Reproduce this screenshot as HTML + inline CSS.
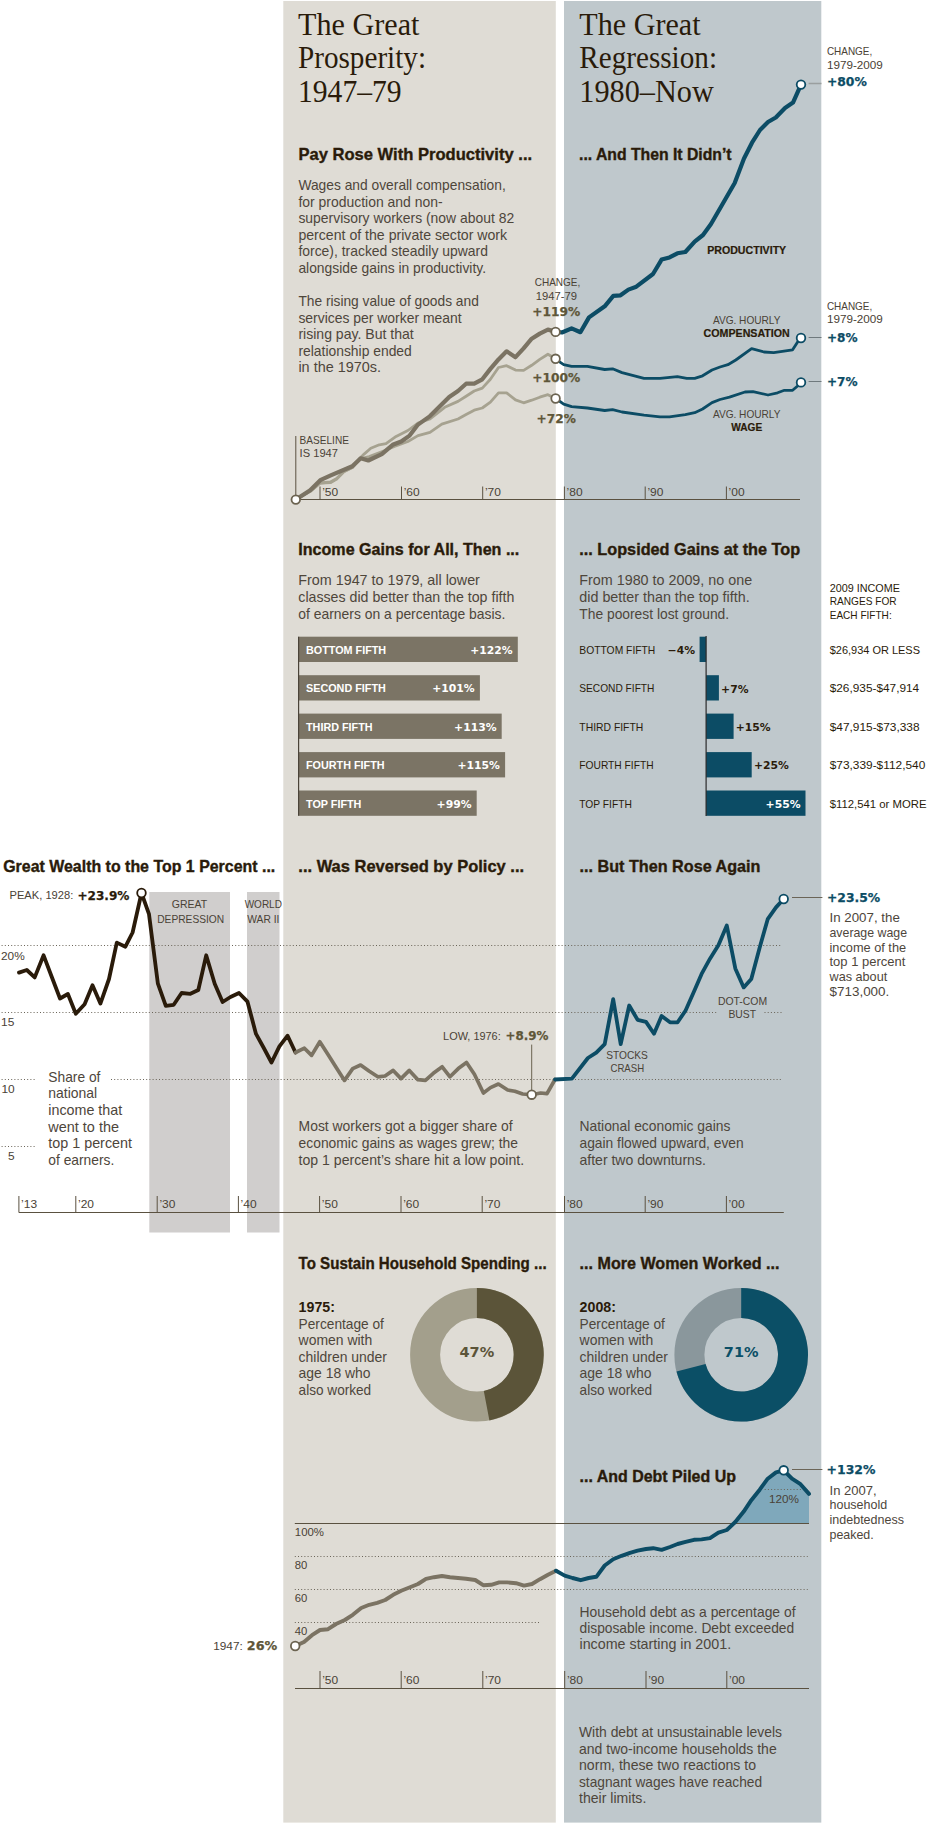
<!DOCTYPE html>
<html><head><meta charset="utf-8"><title>The Great Prosperity / The Great Regression</title><style>
html,body{margin:0;padding:0;background:#fff}
svg{display:block}
text{font-family:"Liberation Sans",sans-serif;}
.ttl{font-family:"Liberation Serif",serif;font-size:30.8px;fill:#2a1b0a}
.h{font-weight:bold;font-size:16.2px;fill:#2a1b0a;stroke:#2a1b0a;stroke-width:0.35px}
.b{font-size:13.9px;fill:#4e463b}
.hb{font-size:13.9px;font-weight:bold;fill:#2a1b0a}
.s{font-size:12.8px;fill:#4e463b}
.c{font-size:10.5px;fill:#4a4236}
.c2{font-size:10.8px;fill:#2a1b0a}
.cb{font-size:10.5px;font-weight:bold;fill:#2a1b0a;stroke:#2a1b0a;stroke-width:0.2px}
.n{font-family:"DejaVu Sans",sans-serif;font-weight:bold;font-size:12.6px;stroke-width:0.25px}
.n2{font-family:"DejaVu Sans",sans-serif;font-weight:bold;font-size:14.5px}
.bl{font-size:10.8px;font-weight:bold}
.bn{font-family:"DejaVu Sans",sans-serif;font-weight:bold;font-size:10.8px}
</style></head>
<body>
<svg width="950" height="1824" viewBox="0 0 950 1824">
<rect x="149.3" y="892.0" width="80.7" height="340.5" fill="#d0cecd"/>
<rect x="247.0" y="892.0" width="32.5" height="340.5" fill="#d0cecd"/>
<rect x="283.3" y="1.0" width="272.5" height="1821.6" fill="#dfdcd5"/>
<rect x="564.0" y="1.0" width="257.3" height="1821.6" fill="#bfc8cc"/>
<text class="ttl" x="298.0" y="34.9" textLength="121.5" lengthAdjust="spacingAndGlyphs">The Great</text>
<text class="ttl" x="298.0" y="68.4" textLength="128.0" lengthAdjust="spacingAndGlyphs">Prosperity:</text>
<text class="ttl" x="298.0" y="101.9" textLength="103.6" lengthAdjust="spacingAndGlyphs">1947–79</text>
<text class="ttl" x="579.3" y="34.9" textLength="121.3" lengthAdjust="spacingAndGlyphs">The Great</text>
<text class="ttl" x="579.3" y="68.4" textLength="137.7" lengthAdjust="spacingAndGlyphs">Regression:</text>
<text class="ttl" x="579.3" y="101.9" textLength="134.5" lengthAdjust="spacingAndGlyphs">1980–Now</text>
<text class="h" x="298.4" y="159.7" textLength="233.7" lengthAdjust="spacingAndGlyphs">Pay Rose With Productivity ...</text>
<text class="h" x="579.0" y="159.7" textLength="152.6" lengthAdjust="spacingAndGlyphs">... And Then It Didn’t</text>
<text class="h" x="298.3" y="554.6" textLength="221.0" lengthAdjust="spacingAndGlyphs">Income Gains for All, Then ...</text>
<text class="h" x="579.3" y="554.6" textLength="220.8" lengthAdjust="spacingAndGlyphs">... Lopsided Gains at the Top</text>
<text class="h" x="3.2" y="871.6" textLength="272.1" lengthAdjust="spacingAndGlyphs">Great Wealth to the Top 1 Percent ...</text>
<text class="h" x="298.3" y="871.6" textLength="225.8" lengthAdjust="spacingAndGlyphs">... Was Reversed by Policy ...</text>
<text class="h" x="579.5" y="871.6" textLength="181.0" lengthAdjust="spacingAndGlyphs">... But Then Rose Again</text>
<text class="h" x="298.6" y="1268.9" textLength="248.0" lengthAdjust="spacingAndGlyphs">To Sustain Household Spending ...</text>
<text class="h" x="579.6" y="1268.9" textLength="199.9" lengthAdjust="spacingAndGlyphs">... More Women Worked ...</text>
<text class="h" x="579.5" y="1482.0" textLength="156.5" lengthAdjust="spacingAndGlyphs">... And Debt Piled Up</text>
<text class="b" x="298.4" y="190.0" textLength="207.4" lengthAdjust="spacingAndGlyphs">Wages and overall compensation,</text>
<text class="b" x="298.4" y="206.6" textLength="144.2" lengthAdjust="spacingAndGlyphs">for production and non-</text>
<text class="b" x="298.4" y="223.2" textLength="215.8" lengthAdjust="spacingAndGlyphs">supervisory workers (now about 82</text>
<text class="b" x="298.4" y="239.8" textLength="208.7" lengthAdjust="spacingAndGlyphs">percent of the private sector work</text>
<text class="b" x="298.4" y="256.4" textLength="189.5" lengthAdjust="spacingAndGlyphs">force), tracked steadily upward</text>
<text class="b" x="298.4" y="273.0" textLength="187.6" lengthAdjust="spacingAndGlyphs">alongside gains in productivity.</text>
<text class="b" x="298.4" y="306.0" textLength="180.4" lengthAdjust="spacingAndGlyphs">The rising value of goods and</text>
<text class="b" x="298.4" y="322.6" textLength="163.2" lengthAdjust="spacingAndGlyphs">services per worker meant</text>
<text class="b" x="298.4" y="339.2" textLength="115.3" lengthAdjust="spacingAndGlyphs">rising pay. But that</text>
<text class="b" x="298.4" y="355.8" textLength="113.4" lengthAdjust="spacingAndGlyphs">relationship ended</text>
<text class="b" x="298.4" y="372.4" textLength="82.7" lengthAdjust="spacingAndGlyphs">in the 1970s.</text>
<text class="b" x="298.3" y="585.3" textLength="181.6" lengthAdjust="spacingAndGlyphs">From 1947 to 1979, all lower</text>
<text class="b" x="298.3" y="601.9" textLength="216.0" lengthAdjust="spacingAndGlyphs">classes did better than the top fifth</text>
<text class="b" x="298.3" y="618.5" textLength="207.1" lengthAdjust="spacingAndGlyphs">of earners on a percentage basis.</text>
<text class="b" x="579.3" y="585.3" textLength="172.8" lengthAdjust="spacingAndGlyphs">From 1980 to 2009, no one</text>
<text class="b" x="579.3" y="601.9" textLength="170.4" lengthAdjust="spacingAndGlyphs">did better than the top fifth.</text>
<text class="b" x="579.3" y="618.5" textLength="149.8" lengthAdjust="spacingAndGlyphs">The poorest lost ground.</text>
<text class="b" x="48.3" y="1081.7" textLength="52.1" lengthAdjust="spacingAndGlyphs">Share of</text>
<text class="b" x="48.3" y="1098.4" textLength="48.9" lengthAdjust="spacingAndGlyphs">national</text>
<text class="b" x="48.3" y="1115.0" textLength="73.9" lengthAdjust="spacingAndGlyphs">income that</text>
<text class="b" x="48.3" y="1131.7" textLength="70.7" lengthAdjust="spacingAndGlyphs">went to the</text>
<text class="b" x="48.3" y="1148.3" textLength="83.7" lengthAdjust="spacingAndGlyphs">top 1 percent</text>
<text class="b" x="48.3" y="1165.0" textLength="66.0" lengthAdjust="spacingAndGlyphs">of earners.</text>
<text class="b" x="298.6" y="1131.1" textLength="214.0" lengthAdjust="spacingAndGlyphs">Most workers got a bigger share of</text>
<text class="b" x="298.6" y="1147.9" textLength="219.4" lengthAdjust="spacingAndGlyphs">economic gains as wages grew; the</text>
<text class="b" x="298.6" y="1164.7" textLength="225.5" lengthAdjust="spacingAndGlyphs">top 1 percent’s share hit a low point.</text>
<text class="b" x="579.5" y="1131.1" textLength="150.9" lengthAdjust="spacingAndGlyphs">National economic gains</text>
<text class="b" x="579.5" y="1147.9" textLength="164.2" lengthAdjust="spacingAndGlyphs">again flowed upward, even</text>
<text class="b" x="579.5" y="1164.7" textLength="126.3" lengthAdjust="spacingAndGlyphs">after two downturns.</text>
<text class="b" x="298.6" y="1328.6" textLength="85.3" lengthAdjust="spacingAndGlyphs">Percentage of</text>
<text class="b" x="298.6" y="1345.1" textLength="73.6" lengthAdjust="spacingAndGlyphs">women with</text>
<text class="b" x="298.6" y="1361.6" textLength="88.4" lengthAdjust="spacingAndGlyphs">children under</text>
<text class="b" x="298.6" y="1378.1" textLength="72.0" lengthAdjust="spacingAndGlyphs">age 18 who</text>
<text class="b" x="298.6" y="1394.6" textLength="72.6" lengthAdjust="spacingAndGlyphs">also worked</text>
<text class="b" x="579.6" y="1328.6" textLength="85.3" lengthAdjust="spacingAndGlyphs">Percentage of</text>
<text class="b" x="579.6" y="1345.1" textLength="73.6" lengthAdjust="spacingAndGlyphs">women with</text>
<text class="b" x="579.6" y="1361.6" textLength="88.4" lengthAdjust="spacingAndGlyphs">children under</text>
<text class="b" x="579.6" y="1378.1" textLength="72.0" lengthAdjust="spacingAndGlyphs">age 18 who</text>
<text class="b" x="579.6" y="1394.6" textLength="72.6" lengthAdjust="spacingAndGlyphs">also worked</text>
<text class="hb" x="298.6" y="1311.8" textLength="36.3" lengthAdjust="spacingAndGlyphs">1975:</text>
<text class="hb" x="579.6" y="1311.8" textLength="36.3" lengthAdjust="spacingAndGlyphs">2008:</text>
<text class="b" x="579.5" y="1616.8" textLength="216.0" lengthAdjust="spacingAndGlyphs">Household debt as a percentage of</text>
<text class="b" x="579.5" y="1633.1" textLength="214.7" lengthAdjust="spacingAndGlyphs">disposable income. Debt exceeded</text>
<text class="b" x="579.5" y="1649.4" textLength="151.6" lengthAdjust="spacingAndGlyphs">income starting in 2001.</text>
<text class="b" x="579.0" y="1736.9" textLength="203.0" lengthAdjust="spacingAndGlyphs">With debt at unsustainable levels</text>
<text class="b" x="579.0" y="1753.5" textLength="197.7" lengthAdjust="spacingAndGlyphs">and two-income households the</text>
<text class="b" x="579.0" y="1770.1" textLength="177.1" lengthAdjust="spacingAndGlyphs">norm, these two reactions to</text>
<text class="b" x="579.0" y="1786.7" textLength="183.1" lengthAdjust="spacingAndGlyphs">stagnant wages have reached</text>
<text class="b" x="579.0" y="1803.3" textLength="67.3" lengthAdjust="spacingAndGlyphs">their limits.</text>
<text class="s" x="829.5" y="922.0" textLength="70.3" lengthAdjust="spacingAndGlyphs">In 2007, the</text>
<text class="s" x="829.5" y="936.8" textLength="77.5" lengthAdjust="spacingAndGlyphs">average wage</text>
<text class="s" x="829.5" y="951.5" textLength="76.6" lengthAdjust="spacingAndGlyphs">income of the</text>
<text class="s" x="829.5" y="966.2" textLength="75.8" lengthAdjust="spacingAndGlyphs">top 1 percent</text>
<text class="s" x="829.5" y="981.0" textLength="57.7" lengthAdjust="spacingAndGlyphs">was about</text>
<text class="s" x="829.5" y="995.8" textLength="59.8" lengthAdjust="spacingAndGlyphs">$713,000.</text>
<text class="s" x="829.5" y="1494.5" textLength="47.2" lengthAdjust="spacingAndGlyphs">In 2007,</text>
<text class="s" x="829.5" y="1509.2" textLength="57.7" lengthAdjust="spacingAndGlyphs">household</text>
<text class="s" x="829.5" y="1523.9" textLength="74.5" lengthAdjust="spacingAndGlyphs">indebtedness</text>
<text class="s" x="829.5" y="1538.6" textLength="44.2" lengthAdjust="spacingAndGlyphs">peaked.</text>
<line x1="295.8" y1="499.5" x2="800.0" y2="499.5" stroke="#5a5140" stroke-width="1" />
<line x1="295.8" y1="436.0" x2="295.8" y2="499.5" stroke="#5a5140" stroke-width="1" />
<line x1="320.0" y1="486.5" x2="320.0" y2="499.5" stroke="#5a5140" stroke-width="1" />
<text class="c" x="322.2" y="496.3" textLength="16.0" lengthAdjust="spacingAndGlyphs">’50</text>
<line x1="401.5" y1="486.5" x2="401.5" y2="499.5" stroke="#5a5140" stroke-width="1" />
<text class="c" x="403.7" y="496.3" textLength="16.0" lengthAdjust="spacingAndGlyphs">’60</text>
<line x1="482.7" y1="486.5" x2="482.7" y2="499.5" stroke="#5a5140" stroke-width="1" />
<text class="c" x="484.9" y="496.3" textLength="16.0" lengthAdjust="spacingAndGlyphs">’70</text>
<line x1="564.4" y1="486.5" x2="564.4" y2="499.5" stroke="#5a5140" stroke-width="1" />
<text class="c" x="566.6" y="496.3" textLength="16.0" lengthAdjust="spacingAndGlyphs">’80</text>
<line x1="645.2" y1="486.5" x2="645.2" y2="499.5" stroke="#5a5140" stroke-width="1" />
<text class="c" x="647.4" y="496.3" textLength="16.0" lengthAdjust="spacingAndGlyphs">’90</text>
<line x1="726.4" y1="486.5" x2="726.4" y2="499.5" stroke="#5a5140" stroke-width="1" />
<text class="c" x="728.6" y="496.3" textLength="16.0" lengthAdjust="spacingAndGlyphs">’00</text>
<polyline points="295.9,499.4 310.2,491.3 320.3,483.0 330.4,482.0 336.3,478.8 343.9,471.5 352.3,467.6 360.7,458.5 369.2,456.6 384.3,450.7 394.4,446.5 407.9,441.5 418.0,435.6 430.0,432.3 441.8,424.2 458.0,419.0 466.1,414.6 474.2,410.2 482.3,408.0 490.4,402.1 498.5,392.8 506.6,392.8 515.5,399.9 523.6,402.8 531.7,400.2 539.8,397.2 547.9,394.7 555.6,398.5" fill="none" stroke="#a6a290" stroke-width="2.8" stroke-linejoin="round" stroke-linecap="round" />
<polyline points="295.9,499.4 310.2,491.3 320.3,483.0 330.4,482.7 336.3,479.4 343.9,471.8 352.3,467.6 360.7,457.5 364.1,454.1 370.8,448.2 379.3,444.8 386.0,443.7 396.1,436.4 407.9,430.5 418.0,423.0 430.0,419.0 444.7,407.3 458.0,401.4 466.1,396.2 474.2,391.0 482.3,388.1 490.4,379.3 498.5,367.5 506.6,365.7 515.5,370.1 523.6,370.4 531.7,365.3 539.8,359.4 547.9,354.2 555.6,358.8" fill="none" stroke="#a6a290" stroke-width="2.8" stroke-linejoin="round" stroke-linecap="round" />
<polyline points="295.9,499.4 310.2,490.3 320.3,480.2 331.3,475.2 352.3,466.2 360.7,458.3 368.3,460.5 381.8,454.1 392.7,444.8 401.2,441.5 409.6,435.6 418.0,424.6 430.0,416.1 449.2,397.0 458.0,391.0 466.1,383.7 474.2,383.7 482.3,379.3 490.4,368.9 498.5,359.4 506.6,351.3 515.5,357.2 523.6,348.3 531.7,338.7 539.8,333.6 547.9,329.6 555.6,331.6" fill="none" stroke="#7b7363" stroke-width="4.2" stroke-linejoin="round" stroke-linecap="round" />
<polyline points="555.8,398.5 563.7,404.2 571.6,406.7 587.4,408.0 604.7,410.5 612.6,409.6 622.0,412.0 644.0,415.2 660.0,416.8 669.5,416.8 685.3,414.6 694.7,412.7 702.6,409.0 712.0,402.6 720.0,399.5 729.5,397.2 745.0,392.0 753.0,391.7 768.0,395.0 777.6,392.8 784.4,390.3 792.6,390.3 797.3,386.2 800.8,382.4" fill="none" stroke="#0c4c65" stroke-width="2.8" stroke-linejoin="round" stroke-linecap="round" />
<polyline points="555.8,359.4 563.7,364.7 571.6,366.3 587.4,366.3 604.7,369.5 612.6,368.8 622.0,372.6 644.0,378.3 660.0,378.3 677.4,376.7 686.8,378.3 694.7,378.3 702.6,375.8 712.0,370.0 720.0,367.0 727.9,364.7 735.8,360.0 751.6,348.6 764.0,352.0 773.7,352.7 792.6,349.8 797.3,342.4 800.8,338.0" fill="none" stroke="#0c4c65" stroke-width="2.8" stroke-linejoin="round" stroke-linecap="round" />
<polyline points="555.6,331.6 562.0,332.5 571.6,328.4 580.4,332.2 589.0,317.4 604.7,306.3 613.3,295.9 620.5,295.3 628.4,289.6 636.3,286.7 653.0,274.0 661.6,259.6 669.5,257.4 677.4,253.3 685.3,252.0 694.7,241.6 703.0,235.0 711.0,224.0 722.0,205.0 734.7,183.0 744.0,158.5 752.0,142.7 760.0,130.0 768.0,122.0 775.8,117.5 785.0,108.0 793.0,102.6 801.0,84.6" fill="none" stroke="#0c4c65" stroke-width="4.2" stroke-linejoin="round" stroke-linecap="round" />
<circle cx="295.8" cy="499.6" r="4.3" fill="#fff" stroke="#6b6350" stroke-width="1.8"/>
<circle cx="555.6" cy="331.9" r="4.3" fill="#fff" stroke="#6b6350" stroke-width="1.8"/>
<circle cx="555.6" cy="358.8" r="4.3" fill="#fff" stroke="#6b6350" stroke-width="1.8"/>
<circle cx="555.6" cy="398.5" r="4.3" fill="#fff" stroke="#6b6350" stroke-width="1.8"/>
<circle cx="801.0" cy="84.6" r="4.3" fill="#fff" stroke="#0c4c65" stroke-width="1.8"/>
<line x1="808.6" y1="83.5" x2="821.5" y2="83.5" stroke="#9a9f9f" stroke-width="1.5" />
<circle cx="801.0" cy="338.0" r="4.3" fill="#fff" stroke="#0c4c65" stroke-width="1.8"/>
<line x1="808.6" y1="337.5" x2="821.5" y2="337.5" stroke="#6f797d" stroke-width="1" />
<circle cx="801.0" cy="382.4" r="4.3" fill="#fff" stroke="#0c4c65" stroke-width="1.8"/>
<line x1="808.6" y1="381.5" x2="821.5" y2="381.5" stroke="#6f797d" stroke-width="1" />
<text class="c" x="299.6" y="443.8" textLength="49.3" lengthAdjust="spacingAndGlyphs">BASELINE</text>
<text class="c" x="299.6" y="457.3" textLength="38.4" lengthAdjust="spacingAndGlyphs">IS 1947</text>
<text class="c" x="557.5" y="286.4" textLength="45.5" lengthAdjust="spacingAndGlyphs" text-anchor="middle">CHANGE,</text>
<text class="c" x="556.4" y="299.7" textLength="41.3" lengthAdjust="spacingAndGlyphs" text-anchor="middle">1947-79</text>
<text class="n" x="556.2" y="315.5" textLength="48.0" lengthAdjust="spacingAndGlyphs" text-anchor="middle" fill="#5e5638" stroke="#5e5638">+119%</text>
<text class="n" x="556.2" y="381.8" textLength="48.0" lengthAdjust="spacingAndGlyphs" text-anchor="middle" fill="#5e5638" stroke="#5e5638">+100%</text>
<text class="n" x="556.2" y="422.8" textLength="39.2" lengthAdjust="spacingAndGlyphs" text-anchor="middle" fill="#5e5638" stroke="#5e5638">+72%</text>
<text class="c" x="826.9" y="55.0" textLength="45.3" lengthAdjust="spacingAndGlyphs">CHANGE,</text>
<text class="c" x="826.9" y="68.5" textLength="56.0" lengthAdjust="spacingAndGlyphs">1979-2009</text>
<text class="n" x="826.9" y="86.4" textLength="40.0" lengthAdjust="spacingAndGlyphs" fill="#0c4c65" stroke="#0c4c65">+80%</text>
<text class="c" x="826.9" y="310.0" textLength="45.3" lengthAdjust="spacingAndGlyphs">CHANGE,</text>
<text class="c" x="826.9" y="323.2" textLength="56.0" lengthAdjust="spacingAndGlyphs">1979-2009</text>
<text class="n" x="826.9" y="341.6" textLength="30.6" lengthAdjust="spacingAndGlyphs" fill="#0c4c65" stroke="#0c4c65">+8%</text>
<text class="n" x="826.9" y="386.2" textLength="30.6" lengthAdjust="spacingAndGlyphs" fill="#0c4c65" stroke="#0c4c65">+7%</text>
<text class="cb" x="746.7" y="254.2" textLength="79.0" lengthAdjust="spacingAndGlyphs" text-anchor="middle">PRODUCTIVITY</text>
<text class="c" x="746.7" y="323.8" textLength="67.6" lengthAdjust="spacingAndGlyphs" text-anchor="middle">AVG. HOURLY</text>
<text class="cb" x="746.7" y="337.0" textLength="86.2" lengthAdjust="spacingAndGlyphs" text-anchor="middle">COMPENSATION</text>
<text class="c" x="746.7" y="418.2" textLength="67.6" lengthAdjust="spacingAndGlyphs" text-anchor="middle">AVG. HOURLY</text>
<text class="cb" x="746.7" y="431.3" textLength="31.0" lengthAdjust="spacingAndGlyphs" text-anchor="middle">WAGE</text>
<rect x="298.3" y="636.7" width="219.5" height="25.3" fill="#7b7465"/>
<text class="bl" x="306.0" y="653.9" fill="#fff">BOTTOM FIFTH</text>
<text class="bn" x="512.6" y="653.9" text-anchor="end" fill="#fff">+122%</text>
<rect x="298.3" y="675.2" width="181.6" height="25.3" fill="#7b7465"/>
<text class="bl" x="306.0" y="692.4" fill="#fff">SECOND FIFTH</text>
<text class="bn" x="474.7" y="692.4" text-anchor="end" fill="#fff">+101%</text>
<rect x="298.3" y="713.6" width="203.4" height="25.3" fill="#7b7465"/>
<text class="bl" x="306.0" y="730.8" fill="#fff">THIRD FIFTH</text>
<text class="bn" x="496.5" y="730.8" text-anchor="end" fill="#fff">+113%</text>
<rect x="298.3" y="752.1" width="206.8" height="25.3" fill="#7b7465"/>
<text class="bl" x="306.0" y="769.3" fill="#fff">FOURTH FIFTH</text>
<text class="bn" x="499.9" y="769.3" text-anchor="end" fill="#fff">+115%</text>
<rect x="298.3" y="790.5" width="178.4" height="25.3" fill="#7b7465"/>
<text class="bl" x="306.0" y="807.7" fill="#fff">TOP FIFTH</text>
<text class="bn" x="471.5" y="807.7" text-anchor="end" fill="#fff">+99%</text>
<line x1="298.6" y1="636.7" x2="298.6" y2="815.8" stroke="#4a4338" stroke-width="1.2" />
<rect x="699.6" y="636.7" width="6.5" height="25.3" fill="#0c4c65"/>
<text class="c2" x="579.3" y="653.9" textLength="76.0" lengthAdjust="spacingAndGlyphs">BOTTOM FIFTH</text>
<text class="bn" x="695.0" y="654.0" text-anchor="end" fill="#2a1b0a">−4%</text>
<text class="c2" x="829.7" y="653.9" textLength="90.3" lengthAdjust="spacingAndGlyphs">$26,934 OR LESS</text>
<rect x="706.1" y="675.2" width="12.8" height="25.3" fill="#0c4c65"/>
<text class="c2" x="579.3" y="692.4" textLength="75.1" lengthAdjust="spacingAndGlyphs">SECOND FIFTH</text>
<text class="bn" x="721.1" y="692.5" fill="#2a1b0a">+7%</text>
<text class="c2" x="829.7" y="692.4" textLength="89.5" lengthAdjust="spacingAndGlyphs">$26,935-$47,914</text>
<rect x="706.1" y="713.6" width="27.5" height="25.3" fill="#0c4c65"/>
<text class="c2" x="579.3" y="730.8" textLength="64.0" lengthAdjust="spacingAndGlyphs">THIRD FIFTH</text>
<text class="bn" x="735.8" y="730.9" fill="#2a1b0a">+15%</text>
<text class="c2" x="829.7" y="730.8" textLength="89.9" lengthAdjust="spacingAndGlyphs">$47,915-$73,338</text>
<rect x="706.1" y="752.1" width="45.6" height="25.3" fill="#0c4c65"/>
<text class="c2" x="579.3" y="769.3" textLength="74.3" lengthAdjust="spacingAndGlyphs">FOURTH FIFTH</text>
<text class="bn" x="753.9" y="769.4" fill="#2a1b0a">+25%</text>
<text class="c2" x="829.7" y="769.3" textLength="95.6" lengthAdjust="spacingAndGlyphs">$73,339-$112,540</text>
<rect x="706.1" y="790.5" width="99.4" height="25.3" fill="#0c4c65"/>
<text class="c2" x="579.3" y="807.7" textLength="52.5" lengthAdjust="spacingAndGlyphs">TOP FIFTH</text>
<text class="bn" x="800.5" y="807.8" text-anchor="end" fill="#fff">+55%</text>
<text class="c2" x="829.7" y="807.7" textLength="96.9" lengthAdjust="spacingAndGlyphs">$112,541 or MORE</text>
<line x1="706.1" y1="636.0" x2="706.1" y2="816.0" stroke="#2a2a2a" stroke-width="1.2" />
<text class="c2" x="829.7" y="591.6" textLength="70.2" lengthAdjust="spacingAndGlyphs">2009 INCOME</text>
<text class="c2" x="829.7" y="605.1" textLength="66.9" lengthAdjust="spacingAndGlyphs">RANGES FOR</text>
<text class="c2" x="829.7" y="618.7" textLength="62.0" lengthAdjust="spacingAndGlyphs">EACH FIFTH:</text>
<line x1="1.6" y1="945.5" x2="782.0" y2="945.5" stroke="#6a6458" stroke-width="1" stroke-dasharray="1 2.2"/>
<line x1="1.6" y1="1012.5" x2="718.4" y2="1012.5" stroke="#6a6458" stroke-width="1" stroke-dasharray="1 2.2"/>
<line x1="764.5" y1="1012.5" x2="782.0" y2="1012.5" stroke="#6a6458" stroke-width="1" stroke-dasharray="1 2.2"/>
<line x1="1.6" y1="1079.5" x2="36.0" y2="1079.5" stroke="#6a6458" stroke-width="1" stroke-dasharray="1 2.2"/>
<line x1="111.0" y1="1079.5" x2="782.0" y2="1079.5" stroke="#6a6458" stroke-width="1" stroke-dasharray="1 2.2"/>
<line x1="1.6" y1="1146.5" x2="36.0" y2="1146.5" stroke="#6a6458" stroke-width="1" stroke-dasharray="1 2.2"/>
<text class="c" x="1.0" y="960.0" textLength="23.7" lengthAdjust="spacingAndGlyphs">20%</text>
<text class="c" x="1.0" y="1026.3" textLength="13.3" lengthAdjust="spacingAndGlyphs">15</text>
<text class="c" x="1.4" y="1092.7" textLength="13.3" lengthAdjust="spacingAndGlyphs">10</text>
<text class="c" x="8.0" y="1160.0" textLength="6.6" lengthAdjust="spacingAndGlyphs">5</text>
<line x1="18.9" y1="1212.5" x2="783.8" y2="1212.5" stroke="#5a5140" stroke-width="1" />
<line x1="18.9" y1="1196.0" x2="18.9" y2="1212.5" stroke="#5a5140" stroke-width="1" />
<text class="c" x="21.1" y="1207.5" textLength="16.0" lengthAdjust="spacingAndGlyphs">’13</text>
<line x1="75.8" y1="1196.0" x2="75.8" y2="1212.5" stroke="#5a5140" stroke-width="1" />
<text class="c" x="78.0" y="1207.5" textLength="16.0" lengthAdjust="spacingAndGlyphs">’20</text>
<line x1="157.2" y1="1196.0" x2="157.2" y2="1212.5" stroke="#5a5140" stroke-width="1" />
<text class="c" x="159.4" y="1207.5" textLength="16.0" lengthAdjust="spacingAndGlyphs">’30</text>
<line x1="238.4" y1="1196.0" x2="238.4" y2="1212.5" stroke="#5a5140" stroke-width="1" />
<text class="c" x="240.6" y="1207.5" textLength="16.0" lengthAdjust="spacingAndGlyphs">’40</text>
<line x1="319.6" y1="1196.0" x2="319.6" y2="1212.5" stroke="#5a5140" stroke-width="1" />
<text class="c" x="321.8" y="1207.5" textLength="16.0" lengthAdjust="spacingAndGlyphs">’50</text>
<line x1="401.0" y1="1196.0" x2="401.0" y2="1212.5" stroke="#5a5140" stroke-width="1" />
<text class="c" x="403.2" y="1207.5" textLength="16.0" lengthAdjust="spacingAndGlyphs">’60</text>
<line x1="482.2" y1="1196.0" x2="482.2" y2="1212.5" stroke="#5a5140" stroke-width="1" />
<text class="c" x="484.4" y="1207.5" textLength="16.0" lengthAdjust="spacingAndGlyphs">’70</text>
<line x1="564.5" y1="1196.0" x2="564.5" y2="1212.5" stroke="#5a5140" stroke-width="1" />
<text class="c" x="566.7" y="1207.5" textLength="16.0" lengthAdjust="spacingAndGlyphs">’80</text>
<line x1="645.2" y1="1196.0" x2="645.2" y2="1212.5" stroke="#5a5140" stroke-width="1" />
<text class="c" x="647.4" y="1207.5" textLength="16.0" lengthAdjust="spacingAndGlyphs">’90</text>
<line x1="726.4" y1="1196.0" x2="726.4" y2="1212.5" stroke="#5a5140" stroke-width="1" />
<text class="c" x="728.6" y="1207.5" textLength="16.0" lengthAdjust="spacingAndGlyphs">’00</text>
<polyline points="19.0,972.6 26.8,970.0 34.7,977.4 43.6,955.3 51.8,977.0 60.0,998.5 67.9,994.0 75.8,1013.7 84.6,1004.2 92.5,985.3 100.4,1003.6 109.0,979.0 116.8,942.6 125.4,946.7 132.6,932.5 141.5,893.0 149.0,914.2 157.9,983.7 165.8,1005.8 173.7,1004.8 181.6,993.0 190.4,993.8 198.3,990.0 206.2,955.3 214.7,983.7 222.6,1002.0 230.5,997.0 239.0,993.0 247.5,1001.7 256.0,1033.9 263.8,1048.0 271.5,1062.5 279.4,1046.4 287.6,1035.7 295.5,1052.5" fill="none" stroke="#2a1b0a" stroke-width="3.8" stroke-linejoin="round" stroke-linecap="round" />
<polyline points="295.5,1052.5 304.4,1048.2 311.6,1055.4 319.8,1041.8 328.0,1054.6 336.2,1067.5 344.5,1080.4 352.7,1068.6 360.6,1065.0 369.0,1071.0 377.8,1076.8 385.0,1076.0 393.2,1070.4 401.0,1078.6 409.3,1070.4 417.9,1079.7 425.4,1080.4 433.3,1073.3 442.2,1066.8 450.0,1076.8 458.3,1068.6 466.5,1062.5 474.4,1074.3 483.4,1093.0 490.5,1087.6 498.4,1084.0 507.7,1090.0 514.9,1091.2 522.7,1094.0 531.7,1094.7 540.6,1093.0 547.0,1093.7 555.0,1079.5" fill="none" stroke="#7b7363" stroke-width="3.7" stroke-linejoin="round" stroke-linecap="round" />
<polyline points="555.0,1079.5 571.9,1078.7 587.9,1058.0 596.3,1052.6 604.7,1044.2 613.2,999.2 620.7,1044.2 629.2,1005.5 637.6,1019.8 646.0,1021.9 654.0,1033.7 661.6,1016.0 670.0,1022.3 677.6,1022.3 685.6,1010.5 694.0,991.6 701.6,973.9 710.0,958.7 718.4,945.3 726.8,925.5 735.3,968.4 743.7,987.4 751.3,978.9 759.7,947.4 767.7,919.2 776.0,907.4 783.7,899.0" fill="none" stroke="#0c4c65" stroke-width="3.8" stroke-linejoin="round" stroke-linecap="round" />
<circle cx="141.5" cy="893.0" r="4.3" fill="#fff" stroke="#2a1b0a" stroke-width="1.8"/>
<line x1="531.7" y1="1044.6" x2="531.7" y2="1091.0" stroke="#6b6350" stroke-width="1" />
<circle cx="531.7" cy="1094.7" r="4.3" fill="#fff" stroke="#6b6350" stroke-width="1.8"/>
<circle cx="783.7" cy="899.0" r="4.3" fill="#fff" stroke="#0c4c65" stroke-width="1.8"/>
<line x1="792.0" y1="897.5" x2="822.4" y2="897.5" stroke="#6b6557" stroke-width="1" />
<text class="c" x="9.5" y="899.4" textLength="63.8" lengthAdjust="spacingAndGlyphs">PEAK, 1928:</text>
<text class="n" x="77.4" y="899.6" textLength="52.1" lengthAdjust="spacingAndGlyphs" fill="#2a1b0a" stroke="#2a1b0a">+23.9%</text>
<text class="c" x="189.5" y="907.9" text-anchor="middle">GREAT</text>
<text class="c" x="190.7" y="922.7" textLength="67.0" lengthAdjust="spacingAndGlyphs" text-anchor="middle">DEPRESSION</text>
<text class="c" x="263.3" y="907.9" textLength="37.3" lengthAdjust="spacingAndGlyphs" text-anchor="middle">WORLD</text>
<text class="c" x="263.3" y="922.7" textLength="32.2" lengthAdjust="spacingAndGlyphs" text-anchor="middle">WAR II</text>
<text class="n" x="548.5" y="1040.0" textLength="43.0" lengthAdjust="spacingAndGlyphs" text-anchor="end" fill="#5e5638" stroke="#5e5638">+8.9%</text>
<text class="c" x="500.7" y="1040.0" textLength="57.6" lengthAdjust="spacingAndGlyphs" text-anchor="end">LOW, 1976:</text>
<text class="c" x="627.0" y="1059.0" textLength="41.7" lengthAdjust="spacingAndGlyphs" text-anchor="middle">STOCKS</text>
<text class="c" x="627.3" y="1072.4" textLength="33.7" lengthAdjust="spacingAndGlyphs" text-anchor="middle">CRASH</text>
<text class="c" x="742.5" y="1004.6" textLength="49.2" lengthAdjust="spacingAndGlyphs" text-anchor="middle">DOT-COM</text>
<text class="c" x="742.2" y="1017.9" textLength="27.6" lengthAdjust="spacingAndGlyphs" text-anchor="middle">BUST</text>
<text class="n" x="827.0" y="902.0" textLength="53.2" lengthAdjust="spacingAndGlyphs" fill="#0c4c65" stroke="#0c4c65">+23.5%</text>
<circle cx="476.9" cy="1354.8" r="51.80" fill="none" stroke="#a39f8c" stroke-width="30.00"/>
<path d="M476.90,1288.00 A66.8,66.8 0 0 1 489.42,1420.42 L483.80,1390.95 A36.8,36.8 0 0 0 476.90,1318.00 Z" fill="#5b5439"/>
<circle cx="741.2" cy="1354.8" r="51.80" fill="none" stroke="#8a979c" stroke-width="30.00"/>
<path d="M741.20,1288.00 A66.8,66.8 0 1 1 676.50,1371.41 L705.56,1363.95 A36.8,36.8 0 1 0 741.20,1318.00 Z" fill="#0b4f66"/>
<text class="n2" x="476.9" y="1356.6" text-anchor="middle" fill="#5b5439">47%</text>
<text class="n2" x="741.2" y="1356.6" text-anchor="middle" fill="#0b4f66">71%</text>
<polygon points="736.3,1523.0 743.7,1511.6 751.3,1500.2 759.7,1489.7 767.7,1478.7 776.0,1472.4 783.7,1470.3 792.0,1478.7 800.5,1484.2 809.0,1493.9 809.0,1523.0" fill="#7fa8bb"/>
<line x1="294.8" y1="1523.5" x2="809.0" y2="1523.5" stroke="#5a5140" stroke-width="1" />
<line x1="294.8" y1="1556.5" x2="807.7" y2="1556.5" stroke="#6a6458" stroke-width="1" stroke-dasharray="1 2.2"/>
<line x1="294.8" y1="1589.5" x2="807.7" y2="1589.5" stroke="#6a6458" stroke-width="1" stroke-dasharray="1 2.2"/>
<line x1="294.8" y1="1622.5" x2="539.2" y2="1622.5" stroke="#6a6458" stroke-width="1" stroke-dasharray="1 2.2"/>
<line x1="764.7" y1="1489.5" x2="807.7" y2="1489.5" stroke="#6a6458" stroke-width="1" stroke-dasharray="1 2.2"/>
<line x1="295.0" y1="1688.5" x2="809.0" y2="1688.5" stroke="#5a5140" stroke-width="1" />
<line x1="320.0" y1="1671.0" x2="320.0" y2="1688.5" stroke="#5a5140" stroke-width="1" />
<text class="c" x="322.2" y="1683.6" textLength="16.0" lengthAdjust="spacingAndGlyphs">’50</text>
<line x1="401.2" y1="1671.0" x2="401.2" y2="1688.5" stroke="#5a5140" stroke-width="1" />
<text class="c" x="403.4" y="1683.6" textLength="16.0" lengthAdjust="spacingAndGlyphs">’60</text>
<line x1="482.8" y1="1671.0" x2="482.8" y2="1688.5" stroke="#5a5140" stroke-width="1" />
<text class="c" x="485.0" y="1683.6" textLength="16.0" lengthAdjust="spacingAndGlyphs">’70</text>
<line x1="564.7" y1="1671.0" x2="564.7" y2="1688.5" stroke="#5a5140" stroke-width="1" />
<text class="c" x="566.9" y="1683.6" textLength="16.0" lengthAdjust="spacingAndGlyphs">’80</text>
<line x1="646.0" y1="1671.0" x2="646.0" y2="1688.5" stroke="#5a5140" stroke-width="1" />
<text class="c" x="648.2" y="1683.6" textLength="16.0" lengthAdjust="spacingAndGlyphs">’90</text>
<line x1="726.8" y1="1671.0" x2="726.8" y2="1688.5" stroke="#5a5140" stroke-width="1" />
<text class="c" x="729.0" y="1683.6" textLength="16.0" lengthAdjust="spacingAndGlyphs">’00</text>
<text class="c" x="294.8" y="1536.0" textLength="29.2" lengthAdjust="spacingAndGlyphs">100%</text>
<text class="c" x="294.8" y="1569.0" textLength="12.6" lengthAdjust="spacingAndGlyphs">80</text>
<text class="c" x="294.8" y="1602.0" textLength="12.6" lengthAdjust="spacingAndGlyphs">60</text>
<text class="c" x="294.8" y="1635.0" textLength="12.6" lengthAdjust="spacingAndGlyphs">40</text>
<polyline points="295.2,1646.0 304.0,1642.0 312.0,1635.2 320.0,1630.0 328.0,1629.2 336.0,1624.0 344.8,1620.0 352.8,1614.8 361.2,1608.0 369.2,1604.8 377.2,1602.8 385.2,1600.0 393.2,1594.8 401.2,1590.8 410.0,1587.2 418.0,1584.0 426.0,1578.8 434.0,1577.2 442.0,1576.0 450.0,1577.2 458.0,1578.0 466.0,1578.8 475.2,1580.0 483.2,1585.2 491.2,1584.8 499.2,1582.4 507.2,1582.4 516.0,1583.2 524.0,1585.6 532.0,1584.0 540.0,1579.2 548.0,1574.8 556.0,1570.8" fill="none" stroke="#7b7363" stroke-width="3.9" stroke-linejoin="round" stroke-linecap="round" />
<polyline points="556.0,1570.8 564.7,1575.6 572.5,1578.0 580.7,1580.2 588.7,1578.0 596.3,1576.8 604.7,1565.5 613.2,1559.2 621.6,1555.8 630.0,1552.8 637.6,1550.7 646.0,1549.0 653.2,1548.2 661.6,1549.9 670.0,1547.0 677.6,1544.0 685.6,1541.9 694.0,1539.8 701.6,1539.4 710.0,1538.1 718.4,1532.6 726.8,1530.0 735.3,1522.0 743.7,1511.6 751.3,1500.2 759.7,1489.7 767.7,1478.7 776.0,1472.4 783.7,1470.3 792.0,1478.7 800.5,1484.2 809.0,1493.9" fill="none" stroke="#0c4c65" stroke-width="3.9" stroke-linejoin="round" stroke-linecap="round" />
<circle cx="295.2" cy="1646.0" r="4.3" fill="#fff" stroke="#6b6350" stroke-width="1.8"/>
<circle cx="783.7" cy="1470.3" r="4.3" fill="#fff" stroke="#0c4c65" stroke-width="1.8"/>
<line x1="792.0" y1="1469.5" x2="822.4" y2="1469.5" stroke="#6b6557" stroke-width="1" />
<text class="n" x="277.2" y="1650.0" textLength="30.4" lengthAdjust="spacingAndGlyphs" text-anchor="end" fill="#5e5638" stroke="#5e5638">26%</text>
<text class="c" x="242.8" y="1650.0" textLength="29.6" lengthAdjust="spacingAndGlyphs" text-anchor="end">1947:</text>
<text class="n" x="826.6" y="1473.7" textLength="48.8" lengthAdjust="spacingAndGlyphs" fill="#0c4c65" stroke="#0c4c65">+132%</text>
<text class="c" x="769.0" y="1502.8" textLength="30.0" lengthAdjust="spacingAndGlyphs">120%</text>
</svg>
</body></html>
